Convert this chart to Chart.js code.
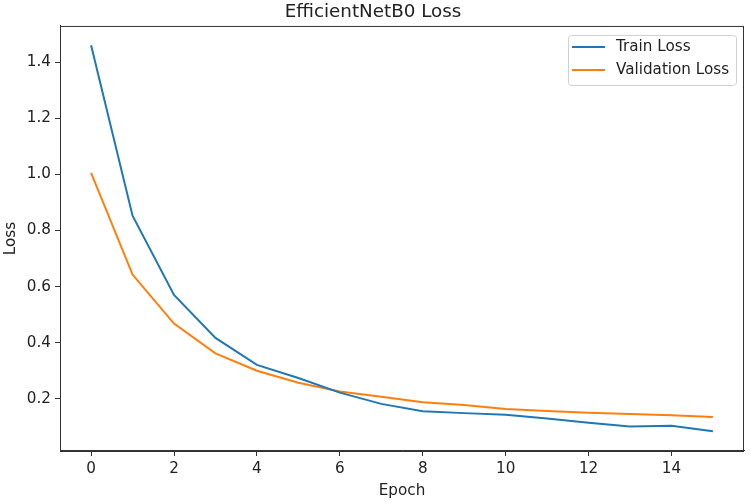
<!DOCTYPE html>
<html>
<head>
<meta charset="utf-8">
<script src="https://cdn.jsdelivr.net/npm/chart.js@4/dist/chart.umd.min.js"></script>
<style>
  html, body { margin: 0; padding: 0; background: #fff; }
  #wrap { width: 751px; height: 504px; }
</style>
</head>
<body>
<div id="wrap"><canvas id="lossChart"></canvas></div>
<script>
// values
const epochs = [0, 1, 2, 3, 4, 5, 6, 7, 8, 9, 10, 11, 12, 13, 14, 15];
const trainLoss = [1.46, 0.853, 0.57, 0.417, 0.321, 0.274, 0.222, 0.182, 0.156, 0.149, 0.143, 0.130, 0.115, 0.101, 0.104, 0.084];
const valLoss = [1.005, 0.643, 0.468, 0.362, 0.300, 0.257, 0.226, 0.207, 0.188, 0.178, 0.164, 0.157, 0.150, 0.146, 0.141, 0.135];
const xTicks = [0, 2, 4, 6, 8, 10, 12, 14];
const yTicks = [0.2, 0.4, 0.6, 0.8, 1.0, 1.2, 1.4];

const FONT = "'DejaVu Sans', sans-serif";
const TEXT = "#222";
const FS = 15.2;

// matplotlib-ish frame (top and right spines) and legend box inside the axes
const framePlugin = {
  id: "frame",
  afterDatasetsDraw(chart) {
    const { ctx, chartArea: a } = chart;
    ctx.save();
    ctx.strokeStyle = "#333";
    ctx.lineWidth = 1;
    ctx.strokeRect(a.left + 0.5, a.top + 0.5, a.right - a.left - 1, a.bottom - a.top);

    // legend
    const w = 168, h = 50;
    const x = a.right - 8 - w, y = a.top + 9;
    ctx.fillStyle = "rgba(255,255,255,0.8)";
    ctx.strokeStyle = "#d0d0d0";
    ctx.beginPath();
    ctx.roundRect(x + 0.5, y + 0.5, w, h, 3);
    ctx.fill();
    ctx.stroke();
    ctx.font = FS + "px " + FONT;
    ctx.textBaseline = "middle";
    chart.data.datasets.forEach((ds, i) => {
      const ly = y + 12 + i * 23;
      ctx.strokeStyle = ds.borderColor;
      ctx.lineWidth = 2;
      ctx.beginPath();
      ctx.moveTo(x + 4, ly);
      ctx.lineTo(x + 37, ly);
      ctx.stroke();
      ctx.fillStyle = TEXT;
      ctx.fillText(ds.label, x + 48, ly);
    });
    ctx.restore();
  }
};

new Chart(document.getElementById("lossChart"), {
  type: "line",
  data: {
    labels: epochs,
    datasets: [
      {
        label: "Train Loss",
        data: epochs.map((e, i) => ({ x: e, y: trainLoss[i] })),
        borderColor: "#1f77b4",
        borderWidth: 2,
        pointRadius: 0,
        fill: false,
        tension: 0,
      },
      {
        label: "Validation Loss",
        data: epochs.map((e, i) => ({ x: e, y: valLoss[i] })),
        borderColor: "#ff7f0e",
        borderWidth: 2,
        pointRadius: 0,
        fill: false,
        tension: 0,
      },
    ],
  },
  options: {
    responsive: true,
    maintainAspectRatio: false,
    animation: false,
    layout: { padding: { right: 7, top: 0, left: 2, bottom: 0 } },
    plugins: {
      legend: { display: false },
      tooltip: { enabled: false },
      title: {
        display: true,
        text: "EfficientNetB0 Loss",
        color: TEXT,
        font: { family: FONT, size: 18.3, weight: "normal" },
        padding: { top: 1, bottom: 3 },
      },
    },
    scales: {
      x: {
        type: "linear",
        min: -0.75,
        max: 15.75,
        afterBuildTicks: (s) => { s.ticks = xTicks.map((v) => ({ value: v })); },
        afterFit: (s) => { s.height = 53; },
        grid: { display: true, drawOnChartArea: false, drawTicks: true, tickLength: 5, color: "#333" },
        border: { display: true, color: "#333", width: 1 },
        ticks: { color: TEXT, font: { family: FONT, size: FS }, padding: 4, maxRotation: 0 },
        title: { display: true, text: "Epoch", color: TEXT, font: { family: FONT, size: FS }, padding: { top: 0, bottom: 4 } },
      },
      y: {
        min: 0.014,
        max: 1.529,
        afterBuildTicks: (s) => { s.ticks = yTicks.map((v) => ({ value: v })); },
        afterFit: (s) => { s.width = 58; },
        grid: { display: true, drawOnChartArea: false, drawTicks: true, tickLength: 5, color: "#333" },
        border: { display: true, color: "#333", width: 1 },
        ticks: { color: TEXT, font: { family: FONT, size: FS }, padding: 4, callback: (v) => v.toFixed(1) },
        title: { display: true, text: "Loss", color: TEXT, font: { family: FONT, size: FS }, padding: { top: 0, bottom: 0 } },
      },
    },
  },
  plugins: [framePlugin],
});
</script>
</body>
</html>
